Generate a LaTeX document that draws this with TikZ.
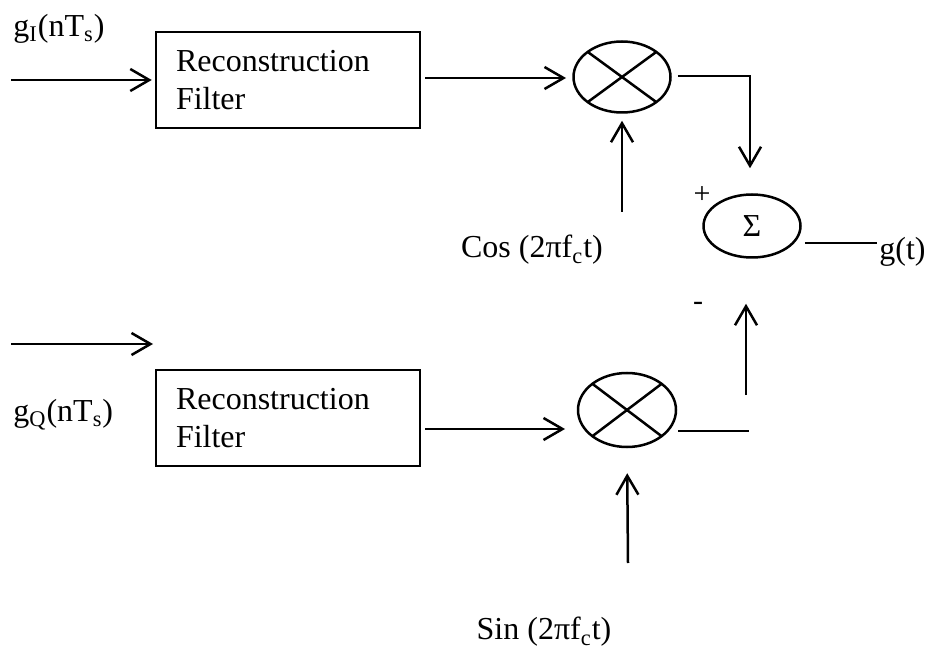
\documentclass[tikz,border=0pt]{standalone}
\usepackage{fontspec}
\setmainfont{Liberation Serif}
\usetikzlibrary{shapes.geometric,arrows.meta}
\begin{document}
\begin{tikzpicture}[x=0.5pt,y=-0.5pt,
  every node/.style={font=\fontsize{16}{19}\selectfont},
  ln/.style={line width=1.25pt},
  arr/.style={ln,-{Straight Barb[length=9.5pt,width=11pt,line width=1.25pt]}},
  filterbox/.style={draw,line width=1.25pt,rectangle,minimum width=132pt,minimum height=48pt,
    text width=112pt,inner xsep=10pt,align=left},
  mixer/.style={draw,line width=1.25pt,ellipse,inner sep=0pt},
  lbl/.style={inner sep=0pt}]
\useasboundingbox (0,0) rectangle (937,652);

% ---- nodes ----
\node[filterbox] (box1) at (288,80) {Reconstruction\\Filter};
\node[filterbox] (box2) at (288,418) {Reconstruction\\Filter};
\node[mixer,minimum width=48.5pt,minimum height=35.5pt] (m1) at (622,77) {};
\node[mixer,minimum width=49pt,minimum height=37pt] (m2) at (627,410) {};
\node[mixer,minimum width=48.5pt,minimum height=31.5pt] (sig) at (752,226) {Σ};

\node[lbl,anchor=west] (gI) at (13,29) {g\textsubscript{I}(nT\textsubscript{s})};
\node[lbl,anchor=west] (gQ) at (13,415) {g\textsubscript{Q}(nT\textsubscript{s})};
\node[lbl] (cosl) at (532,250) {Cos (2πf\textsubscript{c}t)};
\node[lbl] (sinl) at (544,632) {Sin (2πf\textsubscript{c}t)};
\node[lbl,anchor=west] (gt) at (879,252) {g(t)};
\node[lbl,font=\fontsize{15}{17}\selectfont] (plus) at (702,195) {+};
\node[lbl,font=\fontsize{15}{17}\selectfont] (minus) at (698,306) {-};

% ---- crosses in mixers ----
\draw[ln] ([shift={(-34.3,-25.1)}]m1.center) -- ([shift={(34.3,25.1)}]m1.center);
\draw[ln] ([shift={(-34.3,25.1)}]m1.center) -- ([shift={(34.3,-25.1)}]m1.center);
\draw[ln] ([shift={(-34.6,-26.2)}]m2.center) -- ([shift={(34.6,26.2)}]m2.center);
\draw[ln] ([shift={(-34.6,26.2)}]m2.center) -- ([shift={(34.6,-26.2)}]m2.center);

% ---- free coordinates ----
\coordinate (in1) at (11,80);
\coordinate (qin1) at (11,344);
\coordinate (qin2) at (153,344);
\coordinate (cosb) at (622,212);
\coordinate (sinb) at (628,563);
\coordinate (gout) at (877,243);
\coordinate (m2out) at (749,431);
\coordinate (qup) at (746,395);

% ---- connectors ----
\draw[arr,shorten >=1.5pt] (in1) -- (box1.west);
\draw[arr] ([shift={(4,-2)}]box1.east) -- ([shift={(-56,1)}]m1.center);
\draw[arr,shorten <=3pt,shorten >=12.5pt] ([yshift=0.5pt]m1.east) -| ([xshift=-1pt]sig.north);
\draw[arr,shorten >=3.5pt] (cosb) -- (m1.south);

\draw[arr] (qin1) -- (qin2);
\draw[arr] ([shift={(4,11)}]box2.east) -- ([shift={(-62,19)}]m2.center);
\draw[ln] ([shift={(1,21)}]m2.east) -- (m2out);
\draw[arr] (qup) -- ([shift={(-6,45)}]sig.south);
\draw[arr,shorten >=12.5pt] (sinb) -- (m2.south);

\draw[ln] ([shift={(3,17)}]sig.east) -- (gout);
\end{tikzpicture}
\end{document}
